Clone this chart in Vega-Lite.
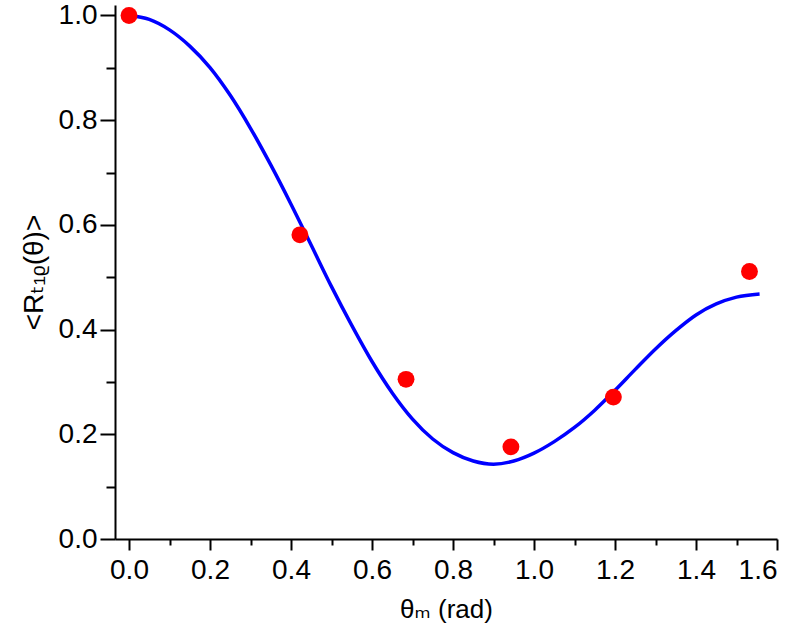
{
  "$schema": "https://vega.github.io/schema/vega-lite/v6.json",
  "width": 662,
  "height": 534,
  "autosize": "none",
  "padding": {"left": 115, "top": 5, "right": 23, "bottom": 105},
  "background": "white",
  "config": {
    "view": {"stroke": null},
    "axis": {
      "grid": false,
      "domainColor": "black",
      "domainWidth": 2,
      "tickColor": "black",
      "tickWidth": 2,
      "labelColor": "black",
      "titleColor": "black",
      "labelFont": "Liberation Sans, Arial, DejaVu Sans",
      "titleFont": "Liberation Sans, Arial, DejaVu Sans",
      "labelFontSize": 28,
      "titleFontWeight": "normal"
    }
  },
  "datasets": {
    "curve": [
      {"theta": 0.0, "r": 1.0},
      {"theta": 0.05, "r": 0.9925},
      {"theta": 0.1, "r": 0.9725},
      {"theta": 0.15, "r": 0.9415},
      {"theta": 0.2, "r": 0.9005},
      {"theta": 0.25, "r": 0.8475},
      {"theta": 0.3, "r": 0.7845},
      {"theta": 0.35, "r": 0.7145},
      {"theta": 0.4, "r": 0.6395},
      {"theta": 0.45, "r": 0.561},
      {"theta": 0.5, "r": 0.482},
      {"theta": 0.55, "r": 0.408},
      {"theta": 0.6, "r": 0.339},
      {"theta": 0.65, "r": 0.279},
      {"theta": 0.7, "r": 0.229},
      {"theta": 0.75, "r": 0.191},
      {"theta": 0.8, "r": 0.165},
      {"theta": 0.85, "r": 0.149},
      {"theta": 0.9, "r": 0.143},
      {"theta": 0.95, "r": 0.149},
      {"theta": 1.0, "r": 0.164},
      {"theta": 1.05, "r": 0.186},
      {"theta": 1.1, "r": 0.213},
      {"theta": 1.15, "r": 0.246},
      {"theta": 1.2, "r": 0.284},
      {"theta": 1.25, "r": 0.324},
      {"theta": 1.3, "r": 0.363},
      {"theta": 1.35, "r": 0.398},
      {"theta": 1.4, "r": 0.428},
      {"theta": 1.45, "r": 0.449},
      {"theta": 1.5, "r": 0.462},
      {"theta": 1.557, "r": 0.468}
    ],
    "points": [
      {"theta": 0.0, "r": 1.0},
      {"theta": 0.422, "r": 0.581},
      {"theta": 0.684, "r": 0.305},
      {"theta": 0.943, "r": 0.176},
      {"theta": 1.196, "r": 0.271},
      {"theta": 1.532, "r": 0.511}
    ]
  },
  "layer": [
    {
      "data": {"name": "curve"},
      "mark": {"type": "line", "color": "#0000ff", "strokeWidth": 3.5, "interpolate": "monotone"},
      "encoding": {
        "x": {
          "field": "theta", "type": "quantitative",
          "scale": {"domain": [-0.0346, 1.6], "nice": false, "zero": false},
          "axis": {"orient": "bottom", "values": [0.1, 0.3, 0.5, 0.7, 0.9, 1.1, 1.3, 1.5], "labels": false, "tickSize": 6, "title": null, "domain": true}
        },
        "y": {
          "field": "r", "type": "quantitative",
          "scale": {"domain": [0, 1.02], "nice": false, "zero": false},
          "axis": {"orient": "left", "values": [0.1, 0.3, 0.5, 0.7, 0.9], "labels": false, "tickSize": 9, "title": null, "domain": true}
        }
      }
    },
    {
      "data": {"name": "points"},
      "mark": {"type": "circle", "color": "#ff0000", "opacity": 1, "size": 285},
      "encoding": {
        "x": {
          "field": "theta", "type": "quantitative",
          "scale": {"domain": [-0.0346, 1.6], "nice": false, "zero": false},
          "axis": {"orient": "bottom", "values": [0, 0.2, 0.4, 0.6, 0.8, 1.0, 1.2, 1.4, 1.6], "format": ".1f", "tickSize": 11, "labelPadding": 6, "domain": false, "title": "θₘ (rad)", "titleFontSize": 26, "titlePadding": 12}
        },
        "y": {
          "field": "r", "type": "quantitative",
          "scale": {"domain": [0, 1.02], "nice": false, "zero": false},
          "axis": {"orient": "left", "values": [0, 0.2, 0.4, 0.6, 0.8, 1.0], "format": ".1f", "tickSize": 15, "labelPadding": 3, "domain": false, "title": "<Rₜ₁ᵨ(θ)>", "titleFontSize": 28, "titlePadding": 10}
        }
      }
    }
  ],
  "resolve": {"axis": {"x": "independent", "y": "independent"}}
}
